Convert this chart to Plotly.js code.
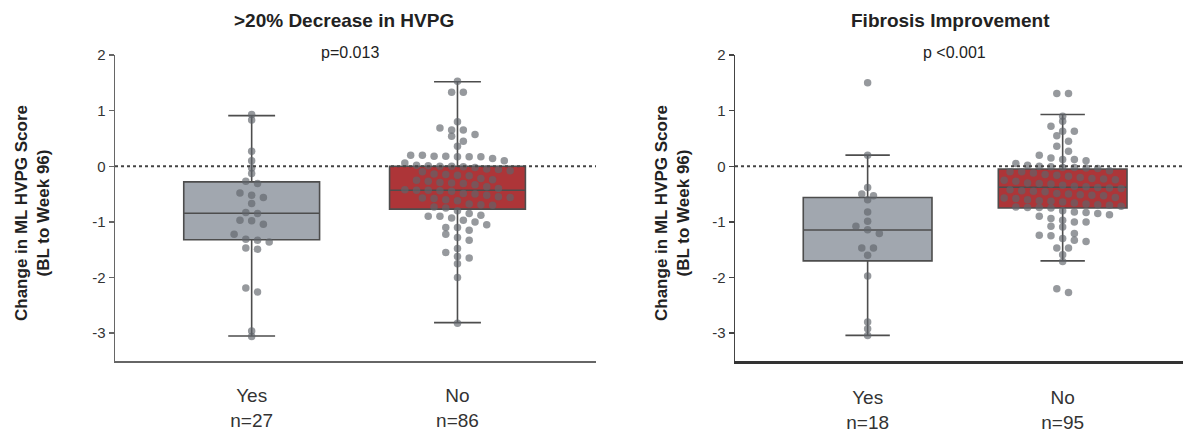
<!DOCTYPE html>
<html>
<head>
<meta charset="utf-8">
<script src="https://cdn.plot.ly/plotly-3.0.1.min.js"></script>
<style>html,body{margin:0;padding:0;background:#fff;}#chart{width:1183px;height:433px;}</style>
</head>
<body>
<div id="chart"></div>
<script>
// ---------- DATA ----------
const panelTitles = [">20% Decrease in HVPG", "Fibrosis Improvement"];
const pValues = ["p=0.013", "p <0.001"];
const groupLabels = ["Yes", "No"];
const nLeft = [27, 86];
const nRight = [18, 95];
const yTickVals = [-3, -2, -1, 0, 1, 2];
const yTickText = ["-3", "-2", "-1", "0", "1", "2"];
const yTitleLines = ["Change in ML HVPG Score", "(BL to Week 96)"];

// box statistics [q1, median, q3, lower whisker, upper whisker]
const statsLeftYes  = [-1.32, -0.845, -0.28, -3.05, 0.91];
const statsLeftNo   = [-0.77, -0.43, 0.00, -2.81, 1.52];
const statsRightYes = [-1.70, -1.145, -0.56, -3.04, 0.20];
const statsRightNo  = [-0.75, -0.376, -0.05, -1.70, 0.93];

const leftYes = [0.93, 0.83, 0.27, 0.10, -0.03, -0.13, -0.27, -0.31, -0.48, -0.52, -0.56, -0.67,
  -0.83, -0.85, -0.97, -0.98, -1.04, -1.22, -1.31, -1.33, -1.36, -1.47, -1.49, -2.19, -2.26, -2.96, -3.06];

const leftNo = [1.53, 1.33, 1.33, 0.80, 0.69, 0.65, 0.65, 0.57, 0.54, 0.45, 0.36, 0.20, 0.18, 0.17, 0.17,
  0.18, 0.20, 0.14, 0.17, 0.10, 0.06,
  0.02, 0.00, -0.01, 0.00, -0.02, 0.01, -0.06, -0.08, -0.05, -0.10, -0.15, -0.16, -0.14, -0.17,
  -0.22, -0.25, -0.24, -0.27, -0.30, -0.31, -0.33, -0.29, -0.37, -0.40, -0.43, -0.44, -0.42, -0.45, -0.43,
  -0.50, -0.52, -0.49, -0.56, -0.57, -0.55, -0.58, -0.62, -0.60, -0.68, -0.70, -0.69, -0.73, -0.75,
  -0.80, -0.85, -0.88, -0.90, -0.90, -0.93, -0.97, -1.00, -1.05, -1.10, -1.10, -1.15, -1.22, -1.28,
  -1.33, -1.48, -1.55, -1.62, -1.65, -1.75, -2.00, -2.82];

const rightYes = [1.50, 0.20, -0.38, -0.50, -0.53, -0.60, -0.82, -0.99, -1.08, -1.14, -1.21, -1.47, -1.47,
  -1.60, -1.97, -2.80, -2.92, -3.04];

const rightNo = [1.31, 1.31, 0.90, 0.81, 0.72, 0.63, 0.63, 0.55, 0.45, 0.36, 0.27, 0.20, 0.15, 0.12, 0.12,
  0.10, 0.05, 0.02, 0.00, -0.01, -0.02, -0.02, -0.03, -0.04,
  -0.08, -0.10, -0.12, -0.10, -0.16, -0.18, -0.15, -0.20, -0.22, -0.25, -0.24, -0.27, -0.23,
  -0.30, -0.32, -0.31, -0.34, -0.36, -0.38, -0.37, -0.40, -0.39, -0.42, -0.45, -0.44, -0.46,
  -0.50, -0.52, -0.49, -0.53, -0.51, -0.56, -0.58, -0.60, -0.57, -0.62, -0.64, -0.63, -0.66,
  -0.68, -0.70, -0.69, -0.72, -0.74, -0.73, -0.75, -0.74,
  -0.80, -0.82, -0.83, -0.85, -0.87, -0.90, -0.94, -0.97, -1.00, -1.00, -1.08, -1.09, -1.21, -1.24,
  -1.25, -1.30, -1.33, -1.35, -1.47, -1.47, -1.59, -1.71, -2.20, -2.27];

// ---------- LAYOUT GEOMETRY ----------
const W = 1183, H = 433;
const FONT = 'Arial, "Liberation Sans", Helvetica, sans-serif';
const xRangeL = [-0.664, 1.673], xRangeR = [-0.68, 1.617];
const xDomL = [115 / W, 596 / W], xDomR = [735 / W, 1];
const yRange = [-3.5, 2], yDom = [1 - 361 / H, 1 - 55 / H];
const pxX = (dom, rng) => (dom[1] - dom[0]) * W / (rng[1] - rng[0]);
const pxY = (yDom[1] - yDom[0]) * H / (yRange[1] - yRange[0]);

// Prism-like swarm: values binned in rows, points centred in each row
function swarm(vals, center, pxPerX) {
  const binU = 9 / pxY, colPx = 11.7;
  const bins = {};
  vals.forEach((v, i) => { const b = Math.round(v / binU); (bins[b] = bins[b] || []).push(i); });
  const xs = new Array(vals.length);
  Object.values(bins).forEach(idx => {
    idx.sort((a, b) => vals[b] - vals[a]);
    const n = idx.length;
    idx.forEach((id, k) => { xs[id] = center + (k - (n - 1) / 2) * colPx / pxPerX; });
  });
  return xs;
}

const GRAY_FILL = '#a1a7af', RED_FILL = '#ad3538', EDGE = '#4d4d4d';
function boxTrace(stats, pos, fill, xa, ya) {
  return {
    type: 'box', x: [pos], q1: [stats[0]], median: [stats[1]], q3: [stats[2]],
    lowerfence: [stats[3]], upperfence: [stats[4]], boxpoints: false,
    width: 0.66, whiskerwidth: 0.345, fillcolor: fill,
    line: { color: EDGE, width: 1.6 }, xaxis: xa, yaxis: ya, hoverinfo: 'skip', showlegend: false
  };
}
function dotTrace(vals, pos, pxPerX, xa, ya) {
  return {
    type: 'scatter', mode: 'markers', x: swarm(vals, pos, pxPerX), y: vals,
    marker: { size: 7.5, color: 'rgba(96,100,106,0.66)', line: { width: 0 } },
    xaxis: xa, yaxis: ya, hoverinfo: 'skip', showlegend: false, cliponaxis: false
  };
}
const pL = pxX(xDomL, xRangeL), pR = pxX(xDomR, xRangeR);
const data = [
  boxTrace(statsLeftYes, 0, GRAY_FILL, 'x', 'y'),
  boxTrace(statsLeftNo, 1, RED_FILL, 'x', 'y'),
  boxTrace(statsRightYes, 0, GRAY_FILL, 'x2', 'y2'),
  boxTrace(statsRightNo, 1, RED_FILL, 'x2', 'y2'),
  dotTrace(leftYes, 0, pL, 'x', 'y'),
  dotTrace(leftNo, 1, pL, 'x', 'y'),
  dotTrace(rightYes, 0, pR, 'x2', 'y2'),
  dotTrace(rightNo, 1, pR, 'x2', 'y2')
];

function xAxis(dom, rng, ns, color, lw) {
  return {
    domain: dom, range: rng, showgrid: false, zeroline: false, showline: true,
    linecolor: color, linewidth: lw, tickvals: [0, 1],
    ticktext: groupLabels.map((g, i) => g + '<br>n=' + ns[i]),
    ticks: 'outside', ticklen: 17, tickcolor: 'rgba(0,0,0,0)',
    tickfont: { family: FONT, size: 19, color: '#333' }, fixedrange: true
  };
}
function yAxis(anchor, color) {
  return {
    domain: yDom, range: yRange, anchor: anchor, showgrid: false, zeroline: false, showline: true,
    linecolor: color, linewidth: 1.5, ticks: 'outside', ticklen: 5, tickwidth: 1.5, tickcolor: color,
    tickvals: yTickVals, ticktext: yTickText,
    tickfont: { family: FONT, size: 15, color: '#333' }, fixedrange: true
  };
}
const ann = (text, xpx, ypx, size, extra) => Object.assign({
  text: text, x: xpx / W, y: 1 - ypx / H, xref: 'paper', yref: 'paper',
  showarrow: false, xanchor: 'center', yanchor: 'middle',
  font: { family: FONT, size: size, color: '#222' }
}, extra || {});

const yTitle = '<b>' + yTitleLines[0] + '</b><br><b>' + yTitleLines[1] + '</b>';
const layout = {
  width: W, height: H, margin: { l: 0, r: 0, t: 0, b: 0 },
  paper_bgcolor: '#fff', plot_bgcolor: '#fff', showlegend: false,
  xaxis: xAxis(xDomL, xRangeL, nLeft, '#666', 1.5),
  yaxis: yAxis('x', '#666'),
  xaxis2: xAxis(xDomR, xRangeR, nRight, '#333', 3),
  yaxis2: yAxis('x2', '#444'),
  shapes: [
    { type: 'line', xref: 'x domain', yref: 'y', x0: 0, x1: 1, y0: 0, y1: 0, line: { color: '#444', width: 2, dash: 'dot' } },
    { type: 'line', xref: 'x2 domain', yref: 'y2', x0: 0, x1: 1, y0: 0, y1: 0, line: { color: '#444', width: 2, dash: 'dot' } }
  ],
  annotations: [
    ann('<b>' + panelTitles[0] + '</b>', 344, 21, 19),
    ann(pValues[0], 350, 53, 16),
    ann('<b>' + panelTitles[1] + '</b>', 950, 21, 19),
    ann(pValues[1], 954, 53, 16),
    ann(yTitle, 32, 213, 17, { textangle: -90 }),
    ann(yTitle, 672, 213, 17, { textangle: -90 })
  ]
};
Plotly.newPlot('chart', data, layout, { displayModeBar: false, staticPlot: true });
</script>
</body>
</html>
